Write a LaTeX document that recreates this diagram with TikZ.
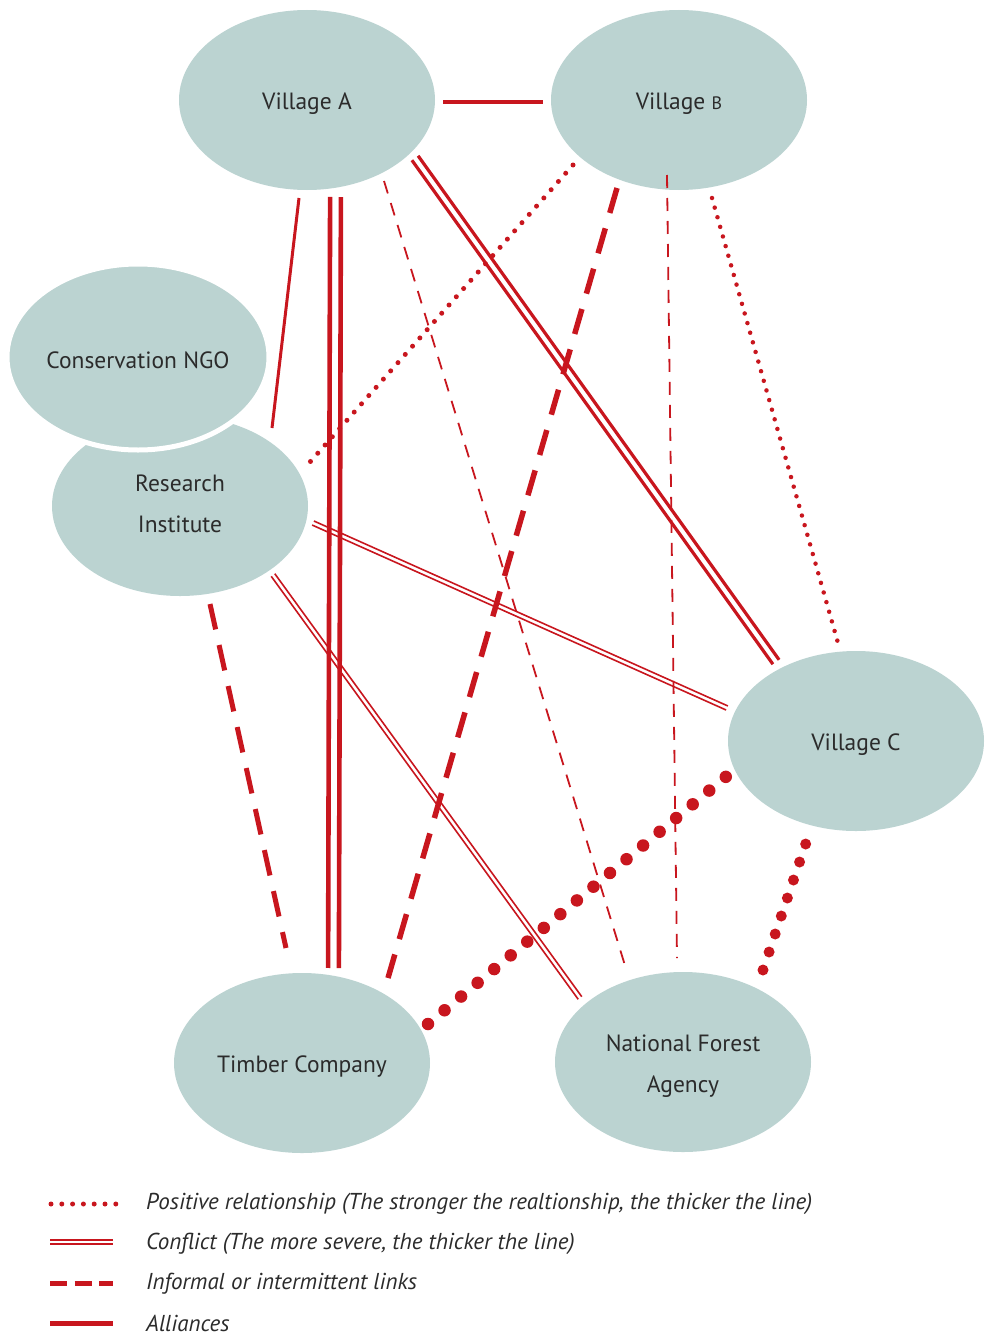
\documentclass[tikz,border=0pt]{standalone}
\usepackage{fontspec}
\setmainfont{PT Sans}
\usetikzlibrary{shapes.geometric,calc}
\definecolor{nodefill}{HTML}{BBD3D1}
\definecolor{lred}{HTML}{C8161E}
\definecolor{txt}{HTML}{2B2B2B}
\newcommand\twinline[4]{%
  \draw[lred, line width=#4] ($(#1)!#3!90:(#2)$) -- ($(#2)!#3!-90:(#1)$);
  \draw[lred, line width=#4] ($(#1)!#3!-90:(#2)$) -- ($(#2)!#3!90:(#1)$);}
\begin{document}
\begin{tikzpicture}[x=1pt,y=-1pt,
  actor/.style={ellipse, fill=nodefill, minimum width=256pt, minimum height=180pt, inner sep=0pt},
  lbl/.style={text=txt, font=\fontsize{23.5}{40.5}\selectfont, align=center, inner sep=0pt},
  alliance/.style={lred, line width=3.5pt},
  informal/.style={lred, line width=5.5pt, dash pattern=on 26pt off 16pt},
  informalthin/.style={lred, line width=1.8pt, dash pattern=on 13pt off 10pt},
  positive/.style={lred, line width=5pt, line cap=round, dash pattern=on 0pt off 11pt},
  positivethick/.style={lred, line width=12.5pt, line cap=round, dash pattern=on 0pt off 21.5pt},
  legtext/.style={anchor=west, text=txt, font=\fontsize{23}{26}\selectfont\itshape, inner sep=0pt}]
\useasboundingbox (0,0) rectangle (985,1335);
% nodes
\node[actor] (va) at (307,100) {};
\node[lbl] (vaT) at ($(va)+(0,4)$) {Village A};
\node[actor] (vb) at (679,100) {};
\node[lbl] (vbT) at ($(vb)+(0,4)$) {Village {\fontsize{18}{20}\selectfont B}};
\node[actor] (ri) at (180,506) {};
\node[lbl] (riT) at ($(ri)+(0,-2)$) {Research\\Institute};
\node[actor, minimum width=262pt, minimum height=186pt, draw=white, line width=5pt] (ngo) at (138,357) {};
\node[lbl] (ngoT) at ($(ngo)+(0,3)$) {Conservation NGO};
\node[actor] (vc) at (856,741) {};
\node[lbl] (vcT) at ($(vc)+(0,4)$) {Village C};
\node[actor] (tc) at (302,1063) {};
\node[lbl] (tcT) at ($(tc)+(0,4)$) {Timber Company};
\node[actor] (nfa) at (683,1062) {};
\node[lbl] (nfaT) at ($(nfa)+(0,4)$) {National Forest\\Agency};
% connector ends
\coordinate (vaE) at (443,102);  \coordinate (vbW) at (543,102);
\coordinate (vaRI) at (299,198); \coordinate (riVA) at (272,428);
\coordinate (vaTC) at (335.5,197); \coordinate (tcVA) at (333.5,968);
\coordinate (vaVC) at (415,158); \coordinate (vcVA) at (776,662);
\coordinate (vaNF) at (384,181); \coordinate (nfVA) at (627,972);
\coordinate (vbRI) at (573,165); \coordinate (riVB) at (310,462);
\coordinate (vbTC) at (617,188); \coordinate (tcVB) at (388,978);
\coordinate (vbNF) at (667,175); \coordinate (nfVB) at (677,958);
\coordinate (vbVC) at (712,198); \coordinate (vcVB) at (838,643);
\coordinate (riVC) at (313,523); \coordinate (vcRI) at (727,708);
\coordinate (riNF) at (273,575); \coordinate (nfRI) at (580,998);
\coordinate (riTC) at (210,604); \coordinate (tcRI) at (286,948);
\coordinate (tcVC) at (428,1024); \coordinate (vcTC) at (728,775);
\coordinate (nfVC) at (763,970); \coordinate (vcNF) at (806,843);
% connectors
\draw[alliance] (vaE) -- (vbW);
\draw[alliance, line width=3pt] (vaRI) -- (riVA);
\twinline{vaTC}{tcVA}{5.4pt}{4.6pt}
\twinline{vaVC}{vcVA}{3.8pt}{3.2pt}
\draw[informalthin] (vaNF) -- (nfVA);
\draw[positive] (vbRI) -- (riVB);
\draw[informal] (vbTC) -- (tcVB);
\draw[informalthin] (vbNF) -- (nfVB);
\draw[positive, line width=4.5pt, dash pattern=on 0pt off 10pt] (vbVC) -- (vcVB);
\twinline{riVC}{vcRI}{2.2pt}{1.6pt}
\twinline{riNF}{nfRI}{2.2pt}{1.6pt}
\draw[informal, line width=5pt] (riTC) -- (tcRI);
\draw[positivethick] (tcVC) -- (vcTC);
\draw[positivethick, line width=11pt, dash pattern=on 0pt off 19pt] (nfVC) -- (vcNF);
% legend
\coordinate (l1a) at (51,1204); \coordinate (l1b) at (116,1204);
\coordinate (l2a) at (50,1242); \coordinate (l2b) at (113,1242);
\coordinate (l3a) at (50,1283); \coordinate (l3b) at (113,1283);
\coordinate (l4a) at (50,1323); \coordinate (l4b) at (113,1323);
\draw[positive, line width=5pt, dash pattern=on 0pt off 10.8pt] (l1a) -- (l1b);
\twinline{l2a}{l2b}{1.8pt}{1.5pt}
\draw[lred, line width=5pt, dash pattern=on 17pt off 7.5pt] (l3a) -- (l3b);
\draw[lred, line width=5pt] (l4a) -- (l4b);
\node[legtext] (t1) at (146,1204) {Positive relationship (The stronger the realtionship, the thicker the line)};
\node[legtext] (t2) at (146,1244) {Conflict (The more severe, the thicker the line)};
\node[legtext] (t3) at (146,1284) {Informal or intermittent links};
\node[legtext] (t4) at (146,1323) {Alliances};
\end{tikzpicture}
\end{document}
